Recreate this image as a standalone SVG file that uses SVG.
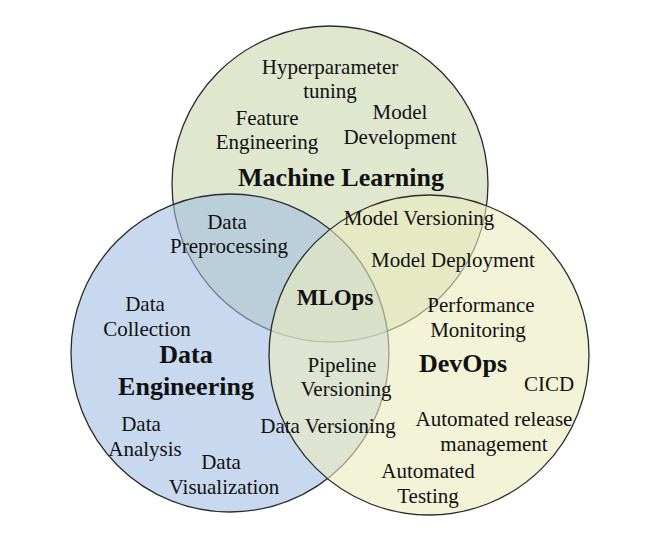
<svg xmlns="http://www.w3.org/2000/svg" width="652" height="538" viewBox="0 0 652 538">
<style>
.c{stroke:#2b2b2b;stroke-width:1.3}
.t{font-family:"Liberation Serif","Times New Roman",serif;font-size:21px;fill:#111;text-anchor:middle}
.b{font-family:"Liberation Serif","Times New Roman",serif;font-weight:bold;fill:#111;text-anchor:middle}
</style>
<rect width="652" height="538" fill="#ffffff"/>
<g id="circles">
<g id="ml-circle"><circle class="c" cx="330" cy="184" r="158" fill="rgb(202,217,175)" fill-opacity="0.6"/></g>
<g id="de-circle"><circle class="c" cx="230" cy="353" r="159" fill="rgb(160,190,228)" fill-opacity="0.58"/></g>
<g id="devops-circle"><circle class="c" cx="429" cy="355" r="160" fill="rgb(235,235,188)" fill-opacity="0.6"/></g>
</g>
<g id="connectors"></g>
<g id="ml">
<text class="t" x="330" y="74">Hyperparameter</text>
<text class="t" x="330" y="98">tuning</text>
<text class="t" x="267" y="125">Feature</text>
<text class="t" x="267" y="149">Engineering</text>
<text class="t" x="400" y="119">Model</text>
<text class="t" x="400" y="144">Development</text>
<text class="b" x="341" y="186" font-size="26">Machine Learning</text>
</g>
<g id="ml-de">
<text class="t" x="227" y="229">Data</text>
<text class="t" x="229" y="253">Preprocessing</text>
</g>
<g id="ml-devops">
<text class="t" x="419" y="225">Model Versioning</text>
<text class="t" x="453" y="267">Model Deployment</text>
</g>
<g id="mlops">
<text class="b" x="335" y="305" font-size="23">MLOps</text>
</g>
<g id="de">
<text class="t" x="145" y="311">Data</text>
<text class="t" x="147" y="336">Collection</text>
<text class="b" x="186" y="363" font-size="26">Data</text>
<text class="b" x="186" y="395" font-size="26">Engineering</text>
<text class="t" x="141" y="431">Data</text>
<text class="t" x="145" y="456">Analysis</text>
<text class="t" x="221" y="469">Data</text>
<text class="t" x="224" y="494">Visualization</text>
</g>
<g id="de-devops">
<text class="t" x="342" y="372">Pipeline</text>
<text class="t" x="346" y="396">Versioning</text>
<text class="t" x="328" y="433">Data Versioning</text>
</g>
<g id="devops">
<text class="t" x="481" y="312">Performance</text>
<text class="t" x="478" y="337">Monitoring</text>
<text class="b" x="463" y="372" font-size="26">DevOps</text>
<text class="t" x="549" y="391">CICD</text>
<text class="t" x="494" y="426">Automated release</text>
<text class="t" x="494" y="451">management</text>
<text class="t" x="428" y="478">Automated</text>
<text class="t" x="428" y="503">Testing</text>
</g>
</svg>
